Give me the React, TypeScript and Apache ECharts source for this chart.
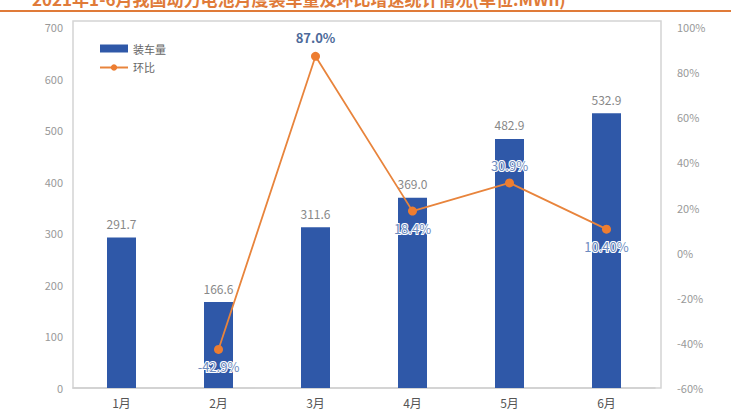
import React, { useEffect, useRef } from "react";
import * as echarts from "echarts";

const months = ["1月", "2月", "3月", "4月", "5月", "6月"];
const volume = [291.7, 166.6, 311.6, 369.0, 482.9, 532.9];
const momRate = [null, -42.9, 87.0, 18.4, 30.9, 10.4];
const momLabels = ["", "-42.9%", "87.0%", "18.4%", "30.9%", "10.40%"];
const momLabelPos = ["bottom", "bottom", "top", "bottom", "top", "bottom"];
const leftTicks = { min: 0, max: 700, interval: 100 };
const rightTicks = { min: -60, max: 100, interval: 20 };
const titleText = "2021年1-6月我国动力电池月度装车量及环比增速统计情况(单位:MWh)";

export default function App() {
  const ref = useRef<HTMLDivElement>(null);
  useEffect(() => {
    if (!ref.current) return;
    const chart = echarts.init(ref.current, undefined, { renderer: "svg" });
    const font = "'Noto Sans CJK SC', 'Noto Sans', sans-serif";
    chart.setOption({
      animation: false,
      textStyle: { fontFamily: font },
      graphic: [
        {
          type: "text",
          left: 32,
          top: -10,
          style: { text: titleText, fill: "#e07b39", font: `bold 17px ${font}` },
        },
        {
          type: "rect",
          shape: { x: 0, y: 10, width: 731, height: 2 },
          style: { fill: "#e07b39" },
        },
        {
          type: "rect",
          shape: { x: 73, y: 21, width: 588, height: 367 },
          style: { fill: "none", stroke: "#d4d4d4", lineWidth: 1.5 },
          z: -1,
        },
      ],
      grid: { left: 73, right: 76, top: 27, bottom: 24 },
      legend: {
        orient: "vertical",
        left: 94,
        top: 38,
        itemGap: 8,
        itemWidth: 28,
        itemHeight: 8,
        textStyle: { color: "#666", fontSize: 11, fontFamily: font },
        data: [
          { name: "装车量", icon: "rect" },
          { name: "环比" },
        ],
      },
      xAxis: {
        type: "category",
        data: months,
        axisLine: { lineStyle: { color: "#d0d0d0", width: 1.5 } },
        axisTick: { show: false },
        axisLabel: { color: "#555", fontSize: 12, margin: 8, fontFamily: font },
      },
      yAxis: [
        {
          type: "value",
          ...leftTicks,
          splitLine: { show: false },
          axisLine: { show: false },
          axisLabel: { color: "#999", fontSize: 11, margin: 10 },
        },
        {
          type: "value",
          ...rightTicks,
          position: "right",
          splitLine: { show: false },
          axisLine: { show: false },
          axisLabel: { color: "#999", fontSize: 11, margin: 22, formatter: "{value}%" },
        },
      ],
      series: [
        {
          name: "装车量",
          type: "bar",
          data: volume,
          barWidth: 29,
          itemStyle: { color: "#2f58a8" },
          label: {
            show: true,
            position: "top",
            color: "#888",
            fontSize: 12,
            distance: 8,
            formatter: (p: any) => p.value.toFixed(1),
          },
        },
        {
          name: "环比",
          type: "line",
          yAxisIndex: 1,
          data: momRate.map((v, i) => ({
            value: v,
            label: {
              show: v !== null,
              position: momLabelPos[i],
              formatter: momLabels[i],
              distance: i === 2 ? 8 : 6,
              fontWeight: i === 2 ? "bold" : "normal",
              color: i === 2 ? "#4e6a9a" : "#6d8cc0",
            },
          })),
          symbol: "circle",
          symbolSize: 9,
          lineStyle: { color: "#e8843c", width: 1.8 },
          itemStyle: { color: "#ed7d31" },
          label: {
            show: true,
            fontSize: 13,
            textBorderColor: "#ffffff",
            textBorderWidth: 2,
          },
          z: 5,
        },
      ],
    });
    return () => chart.dispose();
  }, []);
  return (
    <div
      ref={ref}
      style={{ position: "absolute", left: 0, top: 0, width: 731, height: 412, background: "#fff" }}
    />
  );
}
